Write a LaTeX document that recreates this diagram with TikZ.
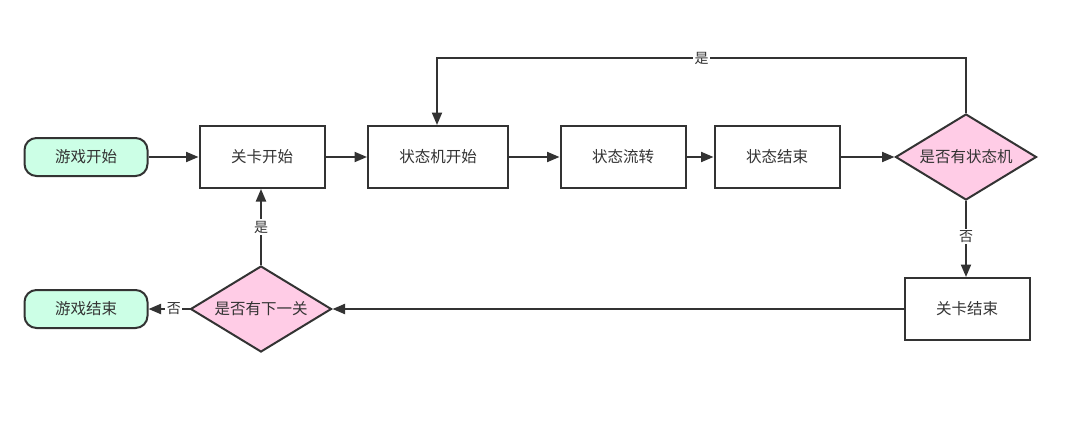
\documentclass[tikz,border=0pt]{standalone}
\usepackage{fontspec}
\setmainfont{Noto Sans CJK SC}
\usetikzlibrary{shapes.geometric,arrows.meta}
\definecolor{linec}{HTML}{333333}
\definecolor{textc}{HTML}{333333}
\definecolor{greenf}{HTML}{CCFFE6}
\definecolor{pinkf}{HTML}{FFCCE6}
\tikzset{
  base/.style={draw=linec,line width=2pt,text=textc,font=\fontsize{15.5}{17}\selectfont,inner sep=0pt},
  termbox/.style={base,fill=greenf,rounded corners=12pt,minimum width=123pt,minimum height=38pt},
  procbox/.style={base,fill=white,minimum width=125pt,minimum height=62pt},
  decbox/.style={base,fill=pinkf,diamond,aspect=1.64,minimum width=141pt,minimum height=86pt},
  conn/.style={draw=linec,line width=2pt,-{Triangle[length=12.5pt,width=10pt]}},
  lbl/.style={fill=white,text=textc,font=\fontsize{14}{15}\selectfont,inner sep=1.5pt}
}
\begin{document}
\begin{tikzpicture}[x=1pt,y=-1pt]
\useasboundingbox (0,0) rectangle (1080,421);
\node[termbox] (start) at (86,157) {游戏开始};
\node[procbox] (lvs) at (262,157) {关卡开始};
\node[procbox,minimum width=140pt] (sms) at (438,157) {状态机开始};
\node[procbox] (flow) at (623,157) {状态流转};
\node[procbox] (se) at (777,157) {状态结束};
\node[decbox] (hasSM) at (966,157) {是否有状态机};
\node[procbox] (lve) at (967,309) {关卡结束};
\node[decbox] (hasNext) at (261,309) {是否有下一关};
\node[termbox] (end) at (86,309) {游戏结束};
\coordinate (tr) at (966,58);
\coordinate (tl) at (437,58);
\draw[conn] (start) -- (lvs);
\draw[conn] (lvs) -- (sms);
\draw[conn] (sms) -- (flow);
\draw[conn] (flow) -- (se);
\draw[conn] (se) -- (hasSM);
\draw[conn] (hasSM.north) -- (tr) -- node[lbl,pos=0.5] (l1) {是} (tl) -- (sms.north -| tl);
\draw[conn] (hasSM.south) -- node[lbl,pos=0.47] (l2) {否} (lve.north -| hasSM.south);
\draw[conn] (lve.west) -- (hasNext.east);
\draw[conn] (hasNext.north) -- node[lbl,pos=0.5] (l3) {是} (lvs.south -| hasNext.north);
\draw[conn] (hasNext.west) -- node[lbl,pos=0.38] (l4) {否} (end.east);
\end{tikzpicture}
\end{document}
